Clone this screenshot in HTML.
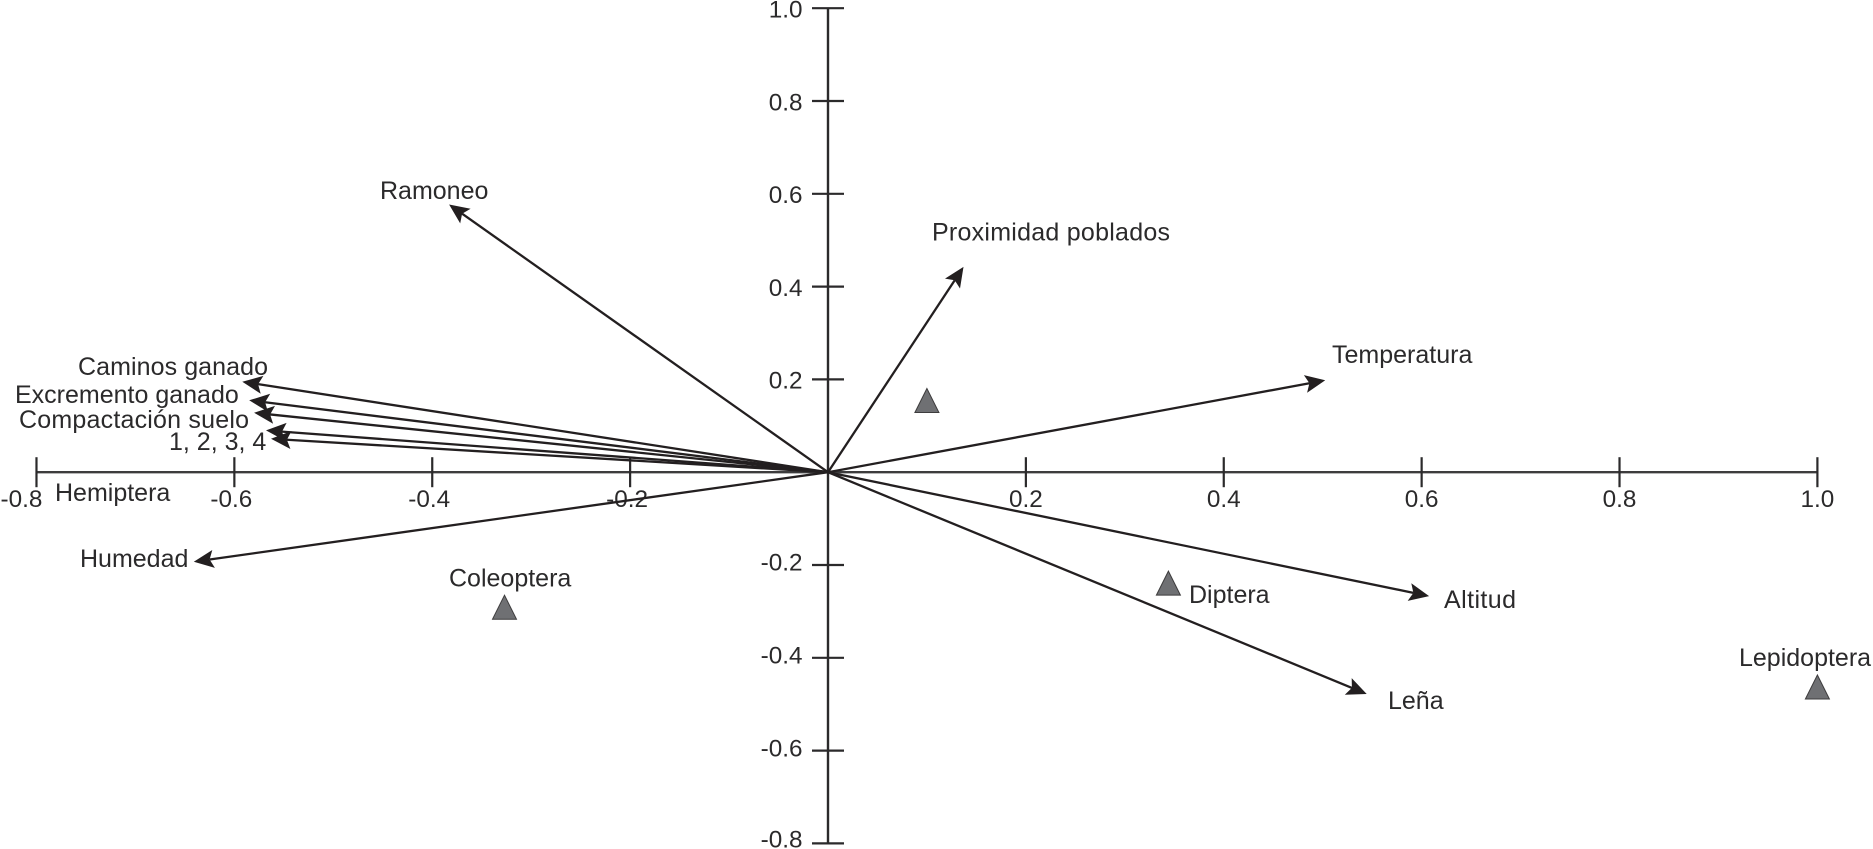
<!DOCTYPE html>
<html lang="es">
<head>
<meta charset="utf-8">
<title>Ordination biplot</title>
<style>
  html, body { margin: 0; padding: 0; background: #fff; }
  body { width: 1873px; height: 849px; overflow: hidden; }
  svg { display: block; }
  text { font-family: "Liberation Sans", sans-serif; font-size: 25px; fill: #2b2a2b; }
  text.tick { font-size: 24.3px; }
</style>
</head>
<body>
<svg id="chart" xmlns="http://www.w3.org/2000/svg" width="1873" height="849" viewBox="0 0 1873 849">
  <rect x="0" y="0" width="1873" height="849" fill="#ffffff"/>
  <g id="axes"></g>
  <g id="arrows"></g>
  <g id="taxa"></g>
  <g>
    <text x="380" y="199">Ramoneo</text>
    <text x="932" y="240.5" textLength="238" lengthAdjust="spacing">Proximidad poblados</text>
    <text x="1332" y="363">Temperatura</text>
    <text x="78" y="375" textLength="190" lengthAdjust="spacing">Caminos ganado</text>
    <text x="15" y="403">Excremento ganado</text>
    <text x="19" y="428" textLength="230" lengthAdjust="spacing">Compactación suelo</text>
    <text x="169" y="450">1, 2, 3, 4</text>
    <text x="80" y="567">Humedad</text>
    <text x="1444" y="608" textLength="72" lengthAdjust="spacing">Altitud</text>
    <text x="1388" y="709">Leña</text>
  </g>
  <g>
    <text x="55" y="501">Hemiptera</text>
    <text x="449" y="586.5">Coleoptera</text>
    <text x="1189" y="603">Diptera</text>
    <text x="1739" y="666">Lepidoptera</text>
  </g>
</svg>
<script>
// Chart data
const xTickValues = [-0.8, -0.6, -0.4, -0.2, 0.2, 0.4, 0.6, 0.8, 1.0];
const yTickValues = [1.0, 0.8, 0.6, 0.4, 0.2, -0.2, -0.4, -0.6, -0.8];
const vectorNames = ['ramoneo', 'proximidad-poblados', 'temperatura', 'altitud', 'lena', 'humedad', 'caminos-ganado', 'excremento-ganado', 'compactacion-suelo', 'vector-1', 'vector-2'];
const vectorX = [-0.383, 0.137, 0.5025, 0.6075, 0.5445, -0.641, -0.592, -0.585, -0.58, -0.568, -0.563];
const vectorY = [0.577, 0.4425, 0.198, -0.267, -0.478, -0.193, 0.195, 0.155, 0.128, 0.09, 0.072];
const taxaNames = ['unlabelled-taxon', 'coleoptera', 'diptera', 'lepidoptera'];
const taxaX = [0.1, -0.327, 0.344, 1.0];
const taxaY = [0.1545, -0.291, -0.239, -0.463];

// Axis functions
const originX = 828, originY = 472.2, unitX = 989.4, unitY = 464;
function sx(v) { return originX + v * unitX; }
function sy(v) { return originY - v * unitY; }
function labelY(v) { return sy(v) + (v > 0 ? 9.3 : v === -0.8 ? 4 : 5.7); }

const NS = 'http://www.w3.org/2000/svg';
function make(tag, attrs) {
  const el = document.createElementNS(NS, tag);
  for (const k in attrs) el.setAttribute(k, attrs[k]);
  return el;
}

const axes = document.getElementById('axes');

const xAxisLine = make('line', { x1: sx(-0.8), y1: originY, x2: sx(1.0), y2: originY, stroke: '#3d3c3d', 'stroke-width': 2.4 });


axes.appendChild(xAxisLine);

const yAxisLine = make('line', { x1: originX, y1: sy(1.0), x2: originX, y2: sy(-0.8), stroke: '#2b2a2b', 'stroke-width': 2.4 });


axes.appendChild(yAxisLine);

xTickValues.forEach(function (v) {
  const tick = make('line', { x1: sx(v), y1: originY - 15, x2: sx(v), y2: originY + 15, stroke: '#2b2a2b', 'stroke-width': 2.2 });
  
  
  axes.appendChild(tick);

  const label = make('text', { class: 'tick', x: sx(v) - (v === -0.8 ? 15 : v < 0 ? 3 : 0), y: 507, 'text-anchor': 'middle' });
  
  
  label.textContent = v.toFixed(1);
  axes.appendChild(label);
});

yTickValues.forEach(function (v) {
  const tick = make('line', { x1: originX - 16, y1: sy(v), x2: originX + 16, y2: sy(v), stroke: '#2b2a2b', 'stroke-width': 2.2 });
  
  
  axes.appendChild(tick);

  const label = make('text', { class: 'tick', x: 802.5, y: labelY(v), 'text-anchor': 'end' });
  
  
  label.textContent = v.toFixed(1);
  axes.appendChild(label);
});

// Vectors: each runs from the origin to its loading
const arrows = document.getElementById('arrows');
vectorNames.forEach(function (name, i) {
  const tx = sx(vectorX[i]), ty = sy(vectorY[i]);
  const dx = tx - originX, dy = ty - originY;
  const len = Math.sqrt(dx * dx + dy * dy);
  const ux = dx / len, uy = dy / len;
  const nx = -uy, ny = ux;
  const headLen = 20, halfW = 9, notch = 16;

  const shaft = make('line', {
    x1: originX, y1: originY,
    x2: tx - ux * notch, y2: ty - uy * notch,
    stroke: '#231f20', 'stroke-width': 2.3
  });
  
  
  arrows.appendChild(shaft);

  const pts = [
    [tx, ty],
    [tx - ux * headLen + nx * halfW, ty - uy * headLen + ny * halfW],
    [tx - ux * notch, ty - uy * notch],
    [tx - ux * headLen - nx * halfW, ty - uy * headLen - ny * halfW]
  ].map(function (p) { return p[0].toFixed(1) + ',' + p[1].toFixed(1); }).join(' ');
  const head = make('polygon', { points: pts, fill: '#231f20' });
  
  
  arrows.appendChild(head);
});

// Taxa triangles, centred on their scores
const taxa = document.getElementById('taxa');
taxaNames.forEach(function (name, i) {
  const cx = sx(taxaX[i]), cy = sy(taxaY[i]);
  const pts = [
    [cx, cy - 12],
    [cx + 12, cy + 12],
    [cx - 12, cy + 12]
  ].map(function (p) { return p[0].toFixed(1) + ',' + p[1].toFixed(1); }).join(' ');
  const tri = make('polygon', { points: pts, fill: '#6f7073', stroke: '#3d3c3d', 'stroke-width': 1 });
  
  
  taxa.appendChild(tri);
});
</script>
</body>
</html>
